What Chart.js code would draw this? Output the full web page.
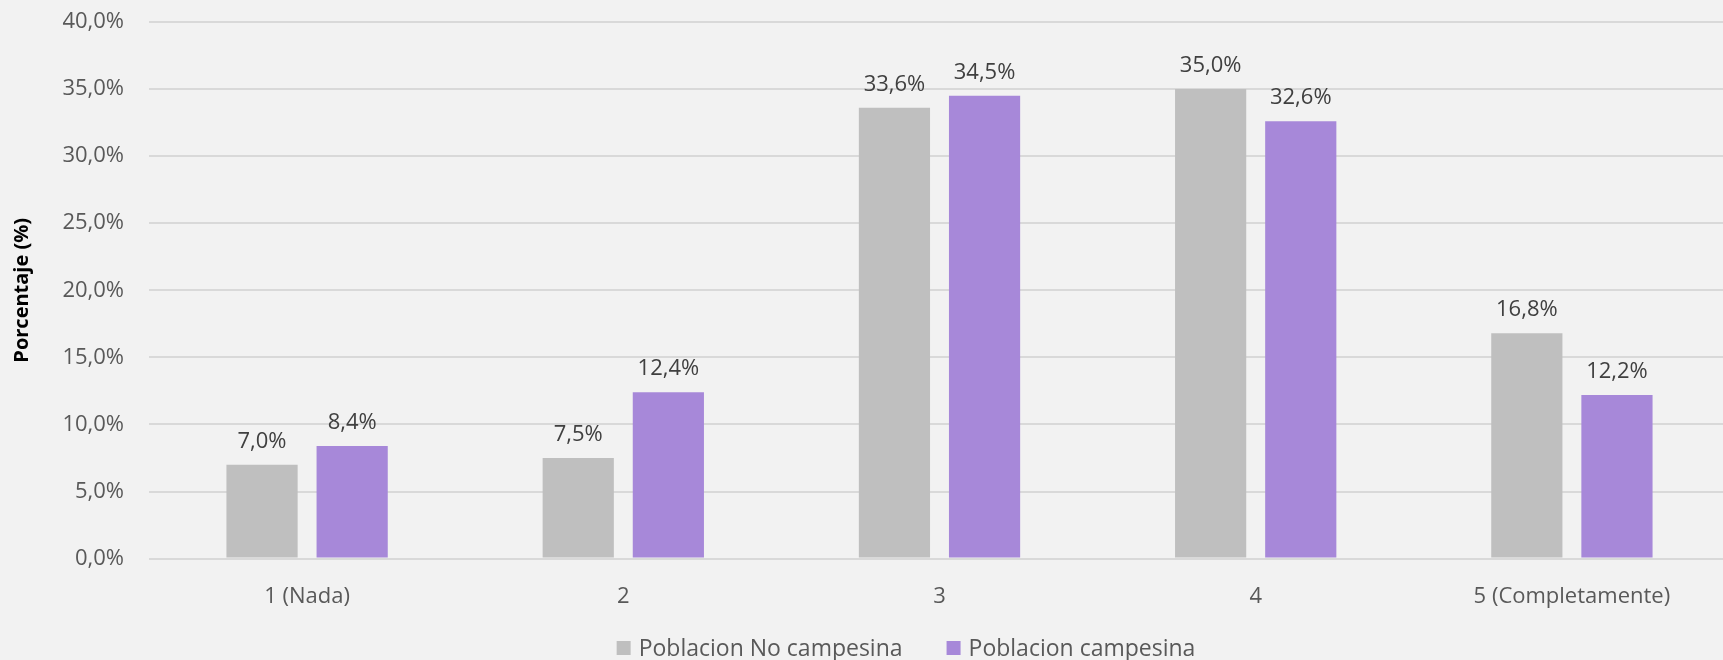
<!DOCTYPE html>
<html><head><meta charset="utf-8">
<script src="https://cdn.jsdelivr.net/npm/chart.js@4/dist/chart.umd.min.js"></script>
<style>html,body{margin:0;padding:0;background:#f2f2f2;overflow:hidden;width:1723px;height:660px;}#w{width:1730px;height:660px;}</style>
</head><body><div id="w"><canvas id="c"></canvas></div>
<script>
const categories = ["1 (Nada)", "2", "3", "4", "5 (Completamente)"];
const noCampesina = [7.0, 7.5, 33.6, 35.0, 16.8];
const campesina = [8.4, 12.4, 34.5, 32.6, 12.2];
const seriesNames = ["Poblacion No campesina", "Poblacion campesina"];
const yTicks = [0, 5, 10, 15, 20, 25, 30, 35, 40];

const fmt = v => v.toFixed(1).replace('.', ',') + '%';
const FONT = "'Open Sans', 'Noto Sans', sans-serif";

const labelPlugin = {
  id: 'barLabels',
  afterDatasetsDraw(chart) {
    const ctx = chart.ctx;
    ctx.save();
    ctx.font = "22px " + FONT;
    ctx.fillStyle = '#404040';
    ctx.textAlign = 'center';
    ctx.textBaseline = 'alphabetic';
    chart.data.datasets.forEach((ds, i) => {
      chart.getDatasetMeta(i).data.forEach((bar, j) => {
        ctx.fillText(fmt(ds.data[j]), bar.x, bar.y - 17);
      });
    });
    ctx.restore();
  }
};
const legendPlugin = {
  id: 'customLegend',
  afterDraw(chart) {
    const ctx = chart.ctx;
    ctx.save();
    ctx.font = "23px " + FONT;
    ctx.textBaseline = 'middle';
    ctx.textAlign = 'left';
    const box = 14, gapText = 8, gapItem = 44;
    const items = chart.data.datasets.map(ds => ({ text: ds.label, color: ds.backgroundColor, w: ctx.measureText(ds.label).width }));
    const total = items.reduce((s, it) => s + box + gapText + it.w, 0) + gapItem * (items.length - 1);
    let x = chart.width / 2 + 41 - total / 2;
    const y = 648;
    items.forEach(it => {
      ctx.fillStyle = it.color;
      ctx.fillRect(x, y - box / 2, box, box);
      x += box + gapText;
      ctx.fillStyle = '#595959';
      ctx.fillText(it.text, x, y + 1);
      x += it.w + gapItem;
    });
    ctx.restore();
  }
};
const bgPlugin = {
  id: 'bg',
  beforeDraw(chart) {
    const ctx = chart.ctx;
    ctx.save();
    ctx.fillStyle = '#f2f2f2';
    ctx.fillRect(0, 0, chart.width, chart.height);
    ctx.restore();
  }
};

new Chart(document.getElementById('c'), {
  type: 'bar',
  data: {
    labels: categories,
    datasets: [
      { label: seriesNames[0], data: noCampesina, backgroundColor: '#bfbfbf', categoryPercentage: 0.57, barPercentage: 0.79 },
      { label: seriesNames[1], data: campesina, backgroundColor: '#a788d9', categoryPercentage: 0.57, barPercentage: 0.79 }
    ]
  },
  options: {
    responsive: true,
    maintainAspectRatio: false,
    animation: false,
    layout: { padding: { top: 0, right: 0, left: 0, bottom: 25 } },
    plugins: {
      legend: { display: false },
      tooltip: { enabled: false }
    },
    scales: {
      x: {
        grid: { display: false, drawTicks: false },
        border: { display: false },
        ticks: { font: { family: FONT, size: 22 }, color: '#595959', padding: 25, maxRotation: 0 }
      },
      y: {
        min: 0, max: 40,
        afterBuildTicks(axis) { axis.ticks = yTicks.map(v => ({ value: v })); },
        afterFit(axis) { axis.width = 149; axis.paddingTop = 22; },
        grid: { color: '#d9d9d9', lineWidth: 2, drawTicks: false },
        border: { display: false },
        ticks: { font: { family: FONT, size: 22 }, color: '#595959', padding: 25, callback: v => fmt(v) },
        title: { display: true, text: 'Porcentaje (%)', font: { family: FONT, size: 20, weight: 'bold' }, color: '#000000', padding: { top: 10, bottom: 0 } }
      }
    }
  },
  plugins: [bgPlugin, labelPlugin, legendPlugin]
});
</script>
</body></html>
